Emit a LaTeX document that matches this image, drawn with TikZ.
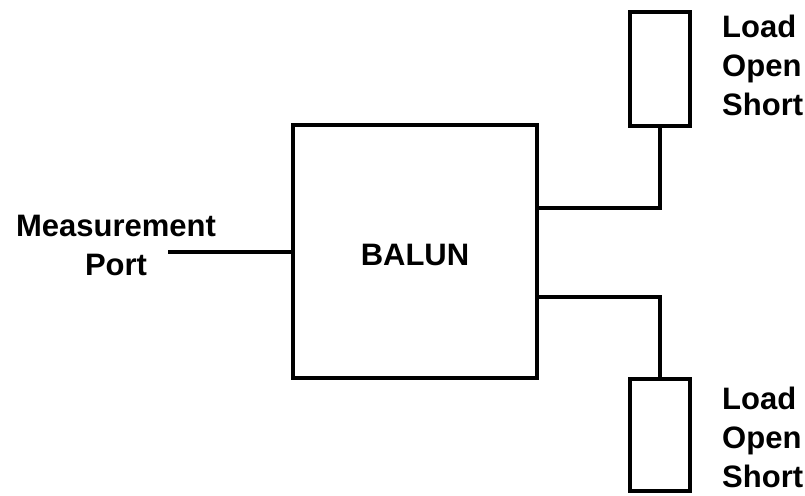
\documentclass[tikz,border=0pt]{standalone}
\usepackage{fontspec}
\setmainfont{Liberation Sans}
\begin{document}
\begin{tikzpicture}[x=1pt,y=-1pt,
  wire/.style={line width=4.5pt},
  blk/.style={draw,line width=4.5pt,fill=white},
  lbl/.style={font=\fontsize{31}{39}\selectfont\bfseries,inner sep=0pt}]
\useasboundingbox (0,0) rectangle (805,495);
% main balun block
\draw[blk] (293,125) rectangle (537,378);
\node[lbl,anchor=base] (balun) at (415,265) {BALUN};
% termination blocks
\draw[blk] (630,12) rectangle (690,126);
\draw[blk] (630,379) rectangle (690,491);
\coordinate (t1) at (660,126);
\coordinate (t2) at (660,379);
\coordinate (o1) at (537,208);
\coordinate (o2) at (537,297);
\coordinate (pin) at (293,252);
\coordinate (pfree) at (168,252);
% connections
\draw[wire] (o1) -| (t1);
\draw[wire] (o2) -| (t2);
\draw[wire] (pfree) -- (pin);
% labels (base anchor sits on the last line)
\node[lbl,align=center,anchor=base] (mp) at (116,275) {Measurement\\Port};
\node[lbl,align=left,anchor=base west] (ta) at (722,115) {Load\\Open\\Short};
\node[lbl,align=left,anchor=base west] (tb) at (722,487) {Load\\Open\\Short};
\end{tikzpicture}
\end{document}
